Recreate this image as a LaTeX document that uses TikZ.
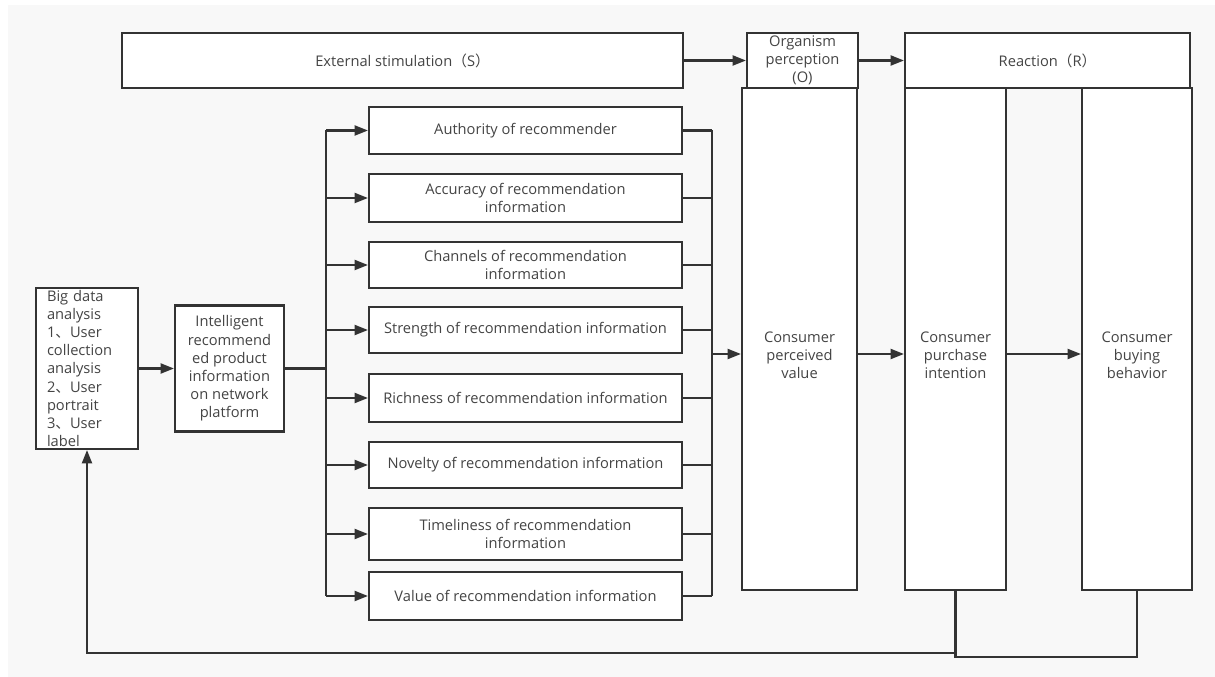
\documentclass[tikz,border=0pt]{standalone}
\usepackage{fontspec}
\setmainfont{Open Sans}
\newfontfamily\cjk{Noto Sans CJK SC}
\usetikzlibrary{arrows.meta}
\definecolor{bgc}{HTML}{F8F8F8}
\definecolor{ln}{HTML}{333333}
\definecolor{tx}{HTML}{444444}
\begin{document}
\begin{tikzpicture}[x=0.75pt,y=-0.75pt,
  box/.style={draw=ln, fill=white, line width=1.6pt, inner sep=0pt, text=tx,
    font=\fontsize{11}{13.6}\selectfont, align=center},
  txt/.style={inner sep=0pt, text=tx, font=\fontsize{11}{13.6}\selectfont, align=center},
  conn/.style={draw=ln, line width=1.6pt},
  arr/.style={draw=ln, line width=1.6pt, -{Triangle[length=10pt,width=7.5pt]}}]
\useasboundingbox (0,0) rectangle (1215,677);
\fill[white] (0,0) rectangle (1215,677);
\fill[bgc] (8,5) rectangle (1215,677);

% top row
\node[box, minimum width=561*0.75pt, minimum height=55*0.75pt] (ext) at (402.5,60.5) {External stimulation{\cjk （}S{\cjk ）}};
\node[box, minimum width=111*0.75pt, minimum height=55*0.75pt] (org) at (802.5,60.5) {Organism\\perception\\(O)};
\node[box, minimum width=285*0.75pt, minimum height=55*0.75pt] (reac) at (1047.5,60.5) {Reaction{\cjk （}R{\cjk ）}};

% tall boxes
\node[box, minimum width=115*0.75pt, minimum height=502*0.75pt] (pv) at (799.5,339) {};
\node[box, minimum width=101*0.75pt, minimum height=502*0.75pt] (pi) at (955.5,339) {};
\node[box, minimum width=110*0.75pt, minimum height=502*0.75pt] (bb) at (1137,339) {};
\node[txt] (pvt) at (799.5,355) {Consumer\\perceived\\value};
\node[txt] (pit) at (955.5,355) {Consumer\\purchase\\intention};
\node[txt] (bbt) at (1137,355) {Consumer\\buying\\behavior};

% left boxes
\node[box, minimum width=102*0.75pt, minimum height=161*0.75pt, text width=80*0.75pt, align=left] (big) at (87,368.5)
  {Big data\\analysis\\1{\cjk 、}User\\collection\\analysis\\2{\cjk 、}User\\portrait\\3{\cjk 、}User\\label};
\node[box, minimum width=109*0.75pt, minimum height=126*0.75pt] (intel) at (229.5,368.5)
  {Intelligent\\recommend\\ed product\\information\\on network\\platform};

% recommendation factors
\node[box, minimum width=313*0.75pt, minimum height=47*0.75pt] (r1) at (525.5,130.5) {Authority of recommender};
\node[box, minimum width=313*0.75pt, minimum height=48*0.75pt] (r2) at (525.5,198) {Accuracy of recommendation\\information};
\node[box, minimum width=313*0.75pt, minimum height=46*0.75pt] (r3) at (525.5,265) {Channels of recommendation\\information};
\node[box, minimum width=313*0.75pt, minimum height=46*0.75pt] (r4) at (525.5,330) {Strength of recommendation information};
\node[box, minimum width=313*0.75pt, minimum height=48*0.75pt] (r5) at (525.5,398) {Richness of recommendation information};
\node[box, minimum width=313*0.75pt, minimum height=46*0.75pt] (r6) at (525.5,465) {Novelty of recommendation information};
\node[box, minimum width=313*0.75pt, minimum height=52*0.75pt] (r7) at (525.5,534) {Timeliness of recommendation\\information};
\node[box, minimum width=313*0.75pt, minimum height=48*0.75pt] (r8) at (525.5,596) {Value of recommendation information};

% connectors
\draw[arr] (ext.east) -- (org.west);
\draw[arr] (org.east) -- (reac.west);
\draw[arr] (big.east |- intel.center) -- (intel.west);

\coordinate (lb) at (326,368.5);
\coordinate (rb) at (712,354);
\draw[conn] (intel.east) -- (lb);
\draw[conn] (lb |- r1.west) -- (lb |- r8.west);
\foreach \r in {r1,r2,r3,r4,r5,r6,r7,r8} {
  \draw[arr] (lb |- \r.west) -- (\r.west);
  \draw[conn] (\r.east) -- (rb |- \r.east);
}
\draw[conn] (rb |- r1.east) -- (rb |- r8.east);
\draw[arr] (rb) -- (rb -| pv.west);
\draw[arr] (pv.east |- rb) -- (pi.west |- rb);
\draw[arr] (pi.east |- rb) -- (bb.west |- rb);

\coordinate (lp) at (955.5,657);
\coordinate (fb) at (955.5,653);
\draw[conn] (pi.south) -- (lp) -| (bb.south);
\draw[arr] (fb) -| (big.south);
\end{tikzpicture}
\end{document}
